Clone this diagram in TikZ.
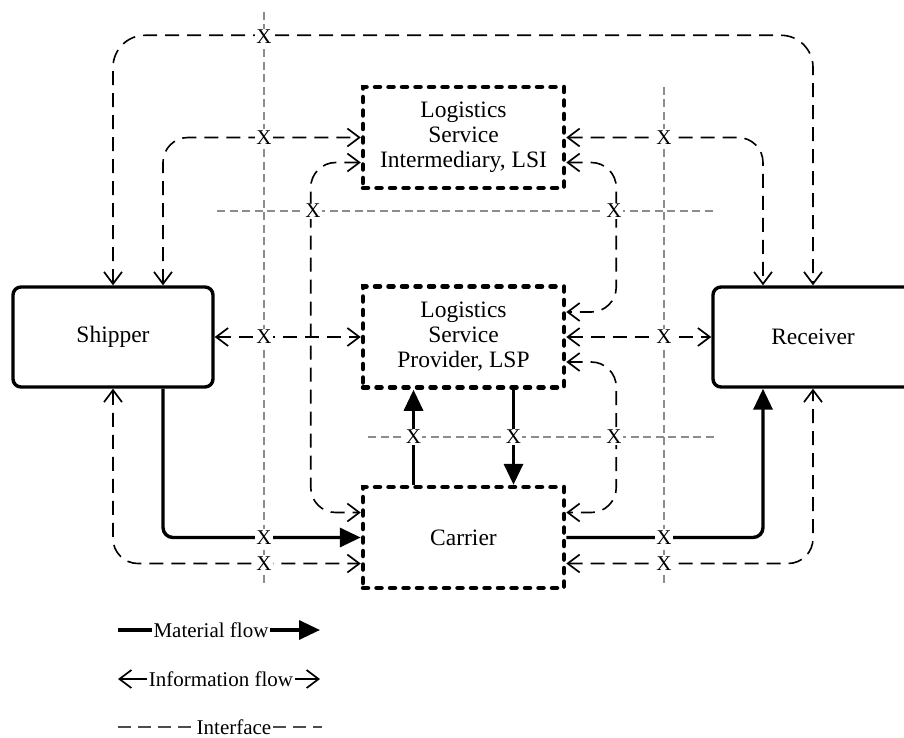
\documentclass[tikz,border=0pt]{standalone}
\usepackage{fontspec}
\setmainfont{Liberation Serif}
\usetikzlibrary{arrows.meta}

\tikzset{
  partybox/.style={draw, line width=3.4pt, rounded corners=8pt,
    minimum width=200pt, minimum height=100pt, inner sep=0pt,
    font=\fontsize{23.5}{25}\selectfont},
  servicebox/.style={draw, line width=4.5pt, line cap=round,
    dash pattern=on 5pt off 8.5pt,
    minimum width=201pt, minimum height=101pt, inner sep=0pt,
    align=center, font=\fontsize{23.5}{25}\selectfont},
  info/.style={draw, line width=1.6pt, dash pattern=on 14pt off 8pt,
    rounded corners=25pt,
    {Straight Barb[length=12pt,width=18pt,line width=1.7pt]}-{Straight Barb[length=12pt,width=18pt,line width=1.7pt]}},
  infotip/.style={draw, line width=1.6pt,
    -{Straight Barb[length=12pt,width=18pt,line width=1.7pt]}},
  material/.style={draw, line width=3.4pt, rounded corners=10pt,
    -{Triangle[length=21pt,width=19pt]}},
  materialline/.style={draw, line width=3.4pt},
  interface/.style={draw=black!45, line width=1.3pt, dash pattern=on 8pt off 4.5pt},
  legendinterface/.style={draw=black!70, line width=2.4pt, dash pattern=on 13pt off 7pt},
  crossmark/.style={fill=white, inner sep=1.2pt, font=\fontsize{21}{21}\selectfont},
  legendtext/.style={inner sep=1.5pt, font=\fontsize{21}{21}\selectfont},
}

\begin{document}
\begin{tikzpicture}[x=1pt, y=-1pt]
\useasboundingbox (0,0) rectangle (904,738);
\clip (0,0) rectangle (904,738);

% actors and service providers
\node[partybox] (ship) at (113,337) {Shipper};
\node[partybox] (recv) at (813,337) {Receiver};
\node[servicebox] (lsi) at (463.5,137.5) {Logistics\\Service\\Intermediary, LSI};
\node[servicebox] (lsp) at (463.5,337) {Logistics\\Service\\Provider, LSP};
\node[servicebox] (car) at (463.5,537.5) {Carrier};

% interfaces
\coordinate (va1) at (264,12);   \coordinate (va2) at (264,585);
\coordinate (vb1) at (664,87);   \coordinate (vb2) at (664,585);
\coordinate (ha1) at (217,211);  \coordinate (ha2) at (715,211);
\coordinate (hb1) at (368,437);  \coordinate (hb2) at (715,437);
\draw[interface] (va1) -- (va2);
\draw[interface] (vb1) -- (vb2);
\draw[interface] (ha1) -- (ha2);
\draw[interface] (hb1) -- (hb2);

% information flows
\draw[info, rounded corners=32pt] (ship.north) -- ++(0,-250) -| (recv.north);
\draw[info] ([xshift=50pt]ship.north) |- (lsi.west);
\draw[info] (lsi.east) -| ([xshift=-50pt]recv.north);
\draw[info] ([yshift=-25pt]lsi.west) -- ++(-50,0) |- ([yshift=25pt]car.west);
\draw[info] ([yshift=-25pt]lsi.east) -- ++(50,0) |- ([yshift=25pt]lsp.east);
\draw[info] ([yshift=-25pt]lsp.east) -- ++(50,0) |- ([yshift=25pt]car.east);
\draw[info] (ship.east) -- (lsp.west);
\draw[info] (lsp.east) -- (recv.west);
\draw[info] (ship.south) |- ([yshift=-26pt]car.west);
\draw[info] ([yshift=-26pt]car.east) -| (recv.south);

% material flows
\draw[material] ([xshift=50pt]ship.south) |- (car.west);
\draw[material] ([xshift=-50pt]car.north) -- ([xshift=-50pt]lsp.south);
\draw[material] ([xshift=50pt]lsp.south) -- ([xshift=50pt]car.north);
\draw[material] (car.east) -| ([xshift=-50pt]recv.south);

% interface crossings
\foreach \p [count=\i] in {(264,37),(264,137.5),(313,211),(664,137.5),(614,211),
  (264,337),(664,337),(413.5,437),(513.5,437),(614,437),
  (264,537.5),(264,563.5),(664,537.5),(664,563.5)}
  \node[crossmark] (x\i) at \p {X};

% legend
\node[legendtext] (lm) at (211,630) {Material flow};
\coordinate (lm1) at (118,630); \coordinate (lm2) at (320,630);
\draw[materialline] (lm1) -- (lm.west);
\draw[material] (lm.east) -- (lm2);

\node[legendtext] (li) at (221,679) {Information flow};
\coordinate (li1) at (118,679); \coordinate (li2) at (320,679);
\draw[infotip] (li.west) -- (li1);
\draw[infotip] (li.east) -- (li2);

\node[legendtext] (lf) at (234,727) {Interface};
\coordinate (lf1) at (118,727); \coordinate (lf2) at (322,727);
\draw[legendinterface] (lf1) -- (lf.west);
\draw[legendinterface] (lf.east) -- (lf2);
\end{tikzpicture}
\end{document}
